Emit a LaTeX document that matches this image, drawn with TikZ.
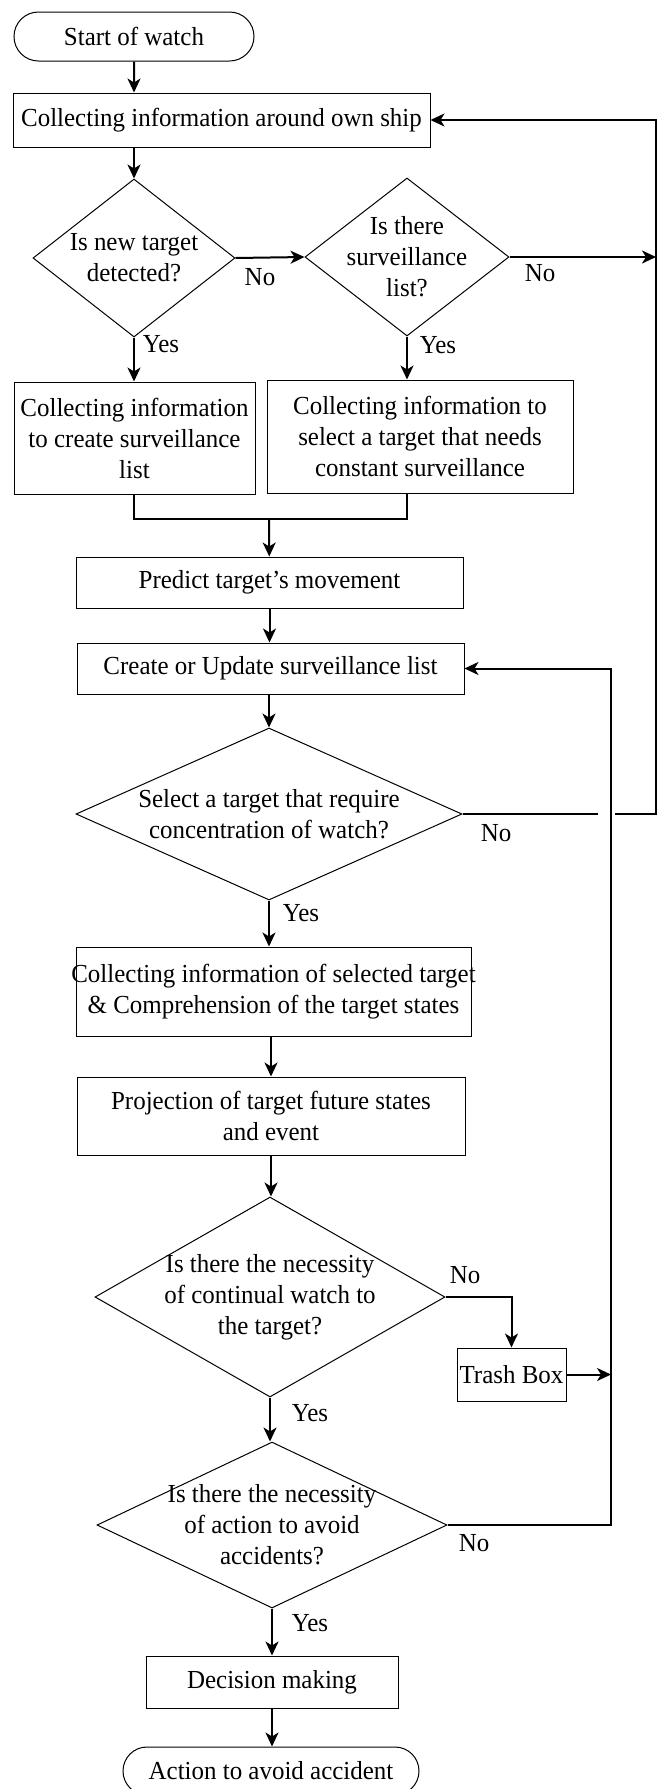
\documentclass[tikz,border=0pt]{standalone}
\usepackage{fontspec}
\setmainfont{Liberation Serif}[FakeStretch=0.96]
\usepackage{tikz}
\usetikzlibrary{shapes.geometric, shapes.misc, arrows.meta, positioning, calc}

\begin{document}
\begin{tikzpicture}[
  x=0.5pt, y=-0.5pt,
  font=\fontsize{13pt}{15.5pt}\selectfont,
  box/.style={rectangle, draw, line width=0.5pt, inner sep=0pt, align=center},
  decision/.style={diamond, draw, line width=0.5pt, inner sep=-4pt, align=center},
  terminal/.style={rounded rectangle, draw, line width=0.5pt, inner sep=0pt},
  arrow/.style={-{Stealth[length=7pt, width=6.5pt, inset=2pt]}, line width=1pt},
  conn/.style={line width=1pt},
  lbl/.style={inner sep=0pt}
]
  \useasboundingbox (0,0) rectangle (660,1789);

  \node[terminal, minimum width=120pt, minimum height=24.5pt] (start) at (134,36.5) {Start of watch};
  \node[box, minimum width=208.5pt, minimum height=27pt] (own) at (221.5,120) {Collecting information around own ship};
  \node[decision, shape aspect=1.28, minimum width=101pt, minimum height=79pt] (d1) at (134,258) {Is new target\\detected?};
  \node[decision, shape aspect=1.29, minimum width=102pt, minimum height=79pt] (d2) at (407,257) {Is there\\surveillance\\list?};
  \node[box, minimum width=120.5pt, minimum height=56pt] (cL) at (134.5,438) {Collecting information\\to create surveillance\\list};
  \node[box, minimum width=153pt, minimum height=56.5pt] (cR) at (420,436.5) {Collecting information to\\select a target that needs\\constant surveillance};
  \node[box, minimum width=193.5pt, minimum height=25.5pt] (predict) at (269.5,582.5) {Predict target’s movement};
  \node[box, minimum width=193.5pt, minimum height=25.5pt] (create) at (270.5,668.5) {Create or Update surveillance list};
  \node[decision, shape aspect=2.24, minimum width=193pt, minimum height=86pt] (select) at (269,814) {Select a target that require\\concentration of watch?};
  \node[box, inner xsep=-5pt, minimum width=197.5pt, minimum height=44.5pt] (selinfo) at (273.5,991.5) {Collecting information of selected target\\\& Comprehension of the target states};
  \node[box, minimum width=194pt, minimum height=39pt] (proj) at (271,1116) {Projection of target future states\\and event};
  \node[decision, shape aspect=1.75, minimum width=175pt, minimum height=100pt] (cont) at (270,1297) {Is there the necessity\\of continual watch to\\the target?};
  \node[box, minimum width=54.5pt, minimum height=26.5pt] (trash) at (511.5,1374.5) {Trash Box};
  \node[decision, shape aspect=2.1, minimum width=175pt, minimum height=83pt] (act) at (272,1525) {Is there the necessity\\of action to avoid\\accidents?};
  \node[box, minimum width=126pt, minimum height=26pt] (decide) at (272,1682) {Decision making};
  \node[terminal, minimum width=148pt, minimum height=24pt] (final) at (271,1771) {Action to avoid accident};

  \node[lbl] (no1) at (260,277) {No};
  \node[lbl] (no2) at (540,273) {No};
  \node[lbl] (yes1) at (161,344) {Yes};
  \node[lbl] (yes2) at (438,345) {Yes};
  \node[lbl] (no3) at (496,833) {No};
  \node[lbl] (yes3) at (301,913) {Yes};
  \node[lbl] (no4) at (465,1275) {No};
  \node[lbl] (yes4) at (310,1413) {Yes};
  \node[lbl] (no5) at (474,1543) {No};
  \node[lbl] (yes5) at (310,1623) {Yes};

  \coordinate (merge) at (269,519);
  \coordinate (rbus) at (656,120);
  \coordinate (ibus) at (611,668.5);
  \coordinate (jumpL) at (598,814);
  \coordinate (jumpR) at (615,814);

  \draw[arrow] (start) -- (start |- own.north);
  \draw[arrow] (own.south -| d1) -- (d1);
  \draw[arrow] (d1.east) -- (d2.west);
  \draw[arrow] (d2.east) -- (d2.east -| rbus);
  \draw[arrow] (d1) -- (d1 |- cL.north);
  \draw[arrow] (d2) -- (d2 |- cR.north);
  \draw[conn] (d1 |- cL.south) |- (merge) -| (d2 |- cR.south);
  \draw[arrow] (merge) -- (predict);
  \draw[arrow] (predict.south) -- (predict.south |- create.north);
  \draw[arrow] (create.south -| select) -- (select);
  \draw[conn] (select.east) -- (jumpL);
  \draw[arrow] (jumpR) -| (rbus) -- (own.east);
  \draw[arrow] (select) -- (select |- selinfo.north);
  \draw[arrow] (proj |- selinfo.south) -- (proj);
  \draw[arrow] (proj) -- (proj |- cont.north);
  \draw[arrow] (cont.east) -| (trash);
  \draw[arrow] (trash.east) -- (trash.east -| ibus);
  \draw[arrow] (cont) -- (cont |- act.north);
  \draw[arrow] (act.east) -| (ibus) -- (create.east);
  \draw[arrow] (act) -- (decide);
  \draw[arrow] (decide.south) -- (decide.south |- final.north);
\end{tikzpicture}
\end{document}
